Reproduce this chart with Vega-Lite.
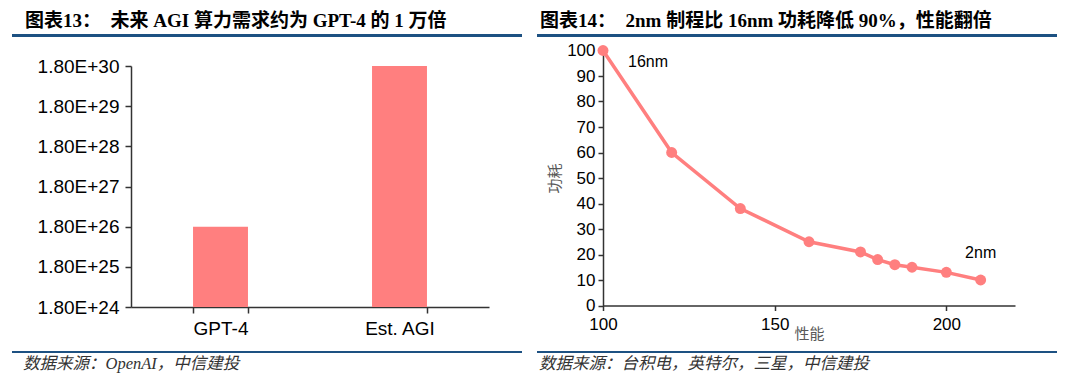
{
  "$schema": "https://vega.github.io/schema/vega-lite/v6.json",
  "padding": {"left": 12, "top": 12, "right": 0, "bottom": 0},
  "autosize": {"type": "pad"},
  "background": "white",
  "config": {
    "view": {"stroke": null},
    "font": "Liberation Sans",
    "axis": {"grid": false, "labelFlush": false}
  },
  "datasets": {
    "compute": [
      {"model": "GPT-4", "flops": 1.8e26},
      {"model": "Est. AGI", "flops": 1.8e30}
    ],
    "node": [
      {"perf": 100, "power": 100, "label": "16nm"},
      {"perf": 120, "power": 60, "label": ""},
      {"perf": 140, "power": 38, "label": ""},
      {"perf": 160, "power": 25, "label": ""},
      {"perf": 175, "power": 21, "label": ""},
      {"perf": 180, "power": 18, "label": ""},
      {"perf": 185, "power": 16, "label": ""},
      {"perf": 190, "power": 15, "label": ""},
      {"perf": 200, "power": 13, "label": ""},
      {"perf": 210, "power": 10, "label": "2nm"}
    ]
  },
  "spacing": 15,
  "hconcat": [
    {
      "spacing": 0,
      "bounds": "flush",
      "vconcat": [
        {
          "width": 510,
          "height": 3,
          "title": {"text": "图表13：　未来 AGI 算力需求约为 GPT-4 的 1 万倍", "anchor": "start", "frame": "group", "dx": 13, "offset": 3, "fontSize": 19, "font": "Liberation Serif, Noto Sans CJK SC", "fontWeight": "bold", "color": "#000000"},
          "data": {"values": [{}]},
          "mark": {"type": "rect", "color": "#1D5182"},
          "encoding": {
            "x": {"datum": 0, "type": "quantitative", "scale": {"domain": [0, 1]}, "axis": null},
            "x2": {"datum": 1}
          }
        },
        {
          "width": 510,
          "height": 314,
          "data": {"name": "compute"},
          "mark": {"type": "bar", "color": "#FF7F7F"},
          "encoding": {
            "x": {
              "field": "model", "type": "nominal", "sort": null,
              "scale": {"range": [119, 477], "paddingInner": 0.693, "paddingOuter": 0.3465},
              "axis": {"title": null, "labelAngle": 0, "tickBand": "extent", "offset": -44, "labelFontSize": 19, "labelColor": "#000000", "domainColor": "#333333", "tickColor": "#333333", "domainWidth": 1.5, "tickWidth": 1.5, "tickSize": 6, "labelPadding": 6}
            },
            "y": {
              "field": "flops", "type": "quantitative",
              "scale": {"type": "log", "domain": [1.8e24, 1.8e30], "range": [270, 29]},
              "axis": {"title": null, "values": [1.8e24, 1.8e25, 1.8e26, 1.8e27, 1.8e28, 1.8e29, 1.8e30], "labelExpr": "'1.80E+' + round(log(datum.value)/LN10)", "offset": -119, "labelFontSize": 19, "labelColor": "#000000", "domainColor": "#333333", "tickColor": "#333333", "domainWidth": 1.5, "tickWidth": 1.5, "tickSize": 6, "labelPadding": 6}
            },
            "y2": {"datum": 1.8e24}
          }
        },
        {
          "width": 510,
          "height": 2,
          "title": {"text": "数据来源：OpenAI，中信建投", "orient": "bottom", "anchor": "start", "frame": "group", "dx": 11, "offset": 3, "fontSize": 16.5, "font": "Liberation Serif, Noto Sans CJK SC", "fontStyle": "italic", "fontWeight": "normal", "color": "#333333"},
          "data": {"values": [{}]},
          "mark": {"type": "rect", "color": "#1D5182"},
          "encoding": {
            "x": {"datum": 0, "type": "quantitative", "scale": {"domain": [0, 1]}, "axis": null},
            "x2": {"datum": 1}
          }
        }
      ]
    },
    {
      "spacing": 0,
      "bounds": "flush",
      "vconcat": [
        {
          "width": 520,
          "height": 3,
          "title": {"text": "图表14：　2nm 制程比 16nm 功耗降低 90%，性能翻倍", "anchor": "start", "frame": "group", "dx": 3, "offset": 3, "fontSize": 19, "font": "Liberation Serif, Noto Sans CJK SC", "fontWeight": "bold", "color": "#000000"},
          "data": {"values": [{}]},
          "mark": {"type": "rect", "color": "#1D5182"},
          "encoding": {
            "x": {"datum": 0, "type": "quantitative", "scale": {"domain": [0, 1]}, "axis": null},
            "x2": {"datum": 1}
          }
        },
        {
          "width": 520,
          "height": 314,
          "data": {"name": "node"},
          "encoding": {
            "x": {
              "field": "perf", "type": "quantitative",
              "scale": {"domain": [100, 220], "range": [66, 478], "nice": false, "zero": false},
              "axis": {"title": "性能", "values": [100, 150, 200], "offset": -45.5, "labelFlush": false, "labelFontSize": 17, "labelColor": "#000000", "domainColor": "#333333", "tickColor": "#333333", "domainWidth": 1.5, "tickWidth": 1.5, "tickSize": 5, "labelPadding": 6, "titlePadding": -6, "titleFontSize": 15, "titleFont": "Noto Sans CJK SC", "titleFontWeight": "normal", "titleColor": "#595959"}
            },
            "y": {
              "field": "power", "type": "quantitative",
              "scale": {"domain": [0, 100], "range": [268.5, 13.5], "nice": false},
              "axis": {"title": "功耗", "values": [0, 10, 20, 30, 40, 50, 60, 70, 80, 90, 100], "offset": -66, "labelFlush": false, "labelFontSize": 17, "labelColor": "#000000", "domainColor": "#333333", "tickColor": "#333333", "domainWidth": 1.5, "tickWidth": 1.5, "tickSize": 5, "labelPadding": 3, "titlePadding": 4, "titleFontSize": 15, "titleFont": "Noto Sans CJK SC", "titleFontWeight": "normal", "titleColor": "#595959"}
            }
          },
          "layer": [
            {"mark": {"type": "line", "color": "#FF7F7F", "strokeWidth": 3.5}},
            {"mark": {"type": "point", "filled": true, "color": "#FF7F7F", "size": 120, "opacity": 1}},
            {
              "transform": [{"filter": "datum.label == '16nm'"}],
              "mark": {"type": "text", "align": "left", "baseline": "middle", "dx": 25, "dy": 11, "fontSize": 16, "color": "#000000"},
              "encoding": {"text": {"field": "label"}}
            },
            {
              "transform": [{"filter": "datum.label == '2nm'"}],
              "mark": {"type": "text", "align": "center", "baseline": "middle", "dx": 0, "dy": -27, "fontSize": 16, "color": "#000000"},
              "encoding": {"text": {"field": "label"}}
            }
          ]
        },
        {
          "width": 520,
          "height": 2,
          "title": {"text": "数据来源：台积电，英特尔，三星，中信建投", "orient": "bottom", "anchor": "start", "frame": "group", "dx": 2, "offset": 3, "fontSize": 16.5, "font": "Liberation Serif, Noto Sans CJK SC", "fontStyle": "italic", "fontWeight": "normal", "color": "#333333"},
          "data": {"values": [{}]},
          "mark": {"type": "rect", "color": "#1D5182"},
          "encoding": {
            "x": {"datum": 0, "type": "quantitative", "scale": {"domain": [0, 1]}, "axis": null},
            "x2": {"datum": 1}
          }
        }
      ]
    }
  ]
}
